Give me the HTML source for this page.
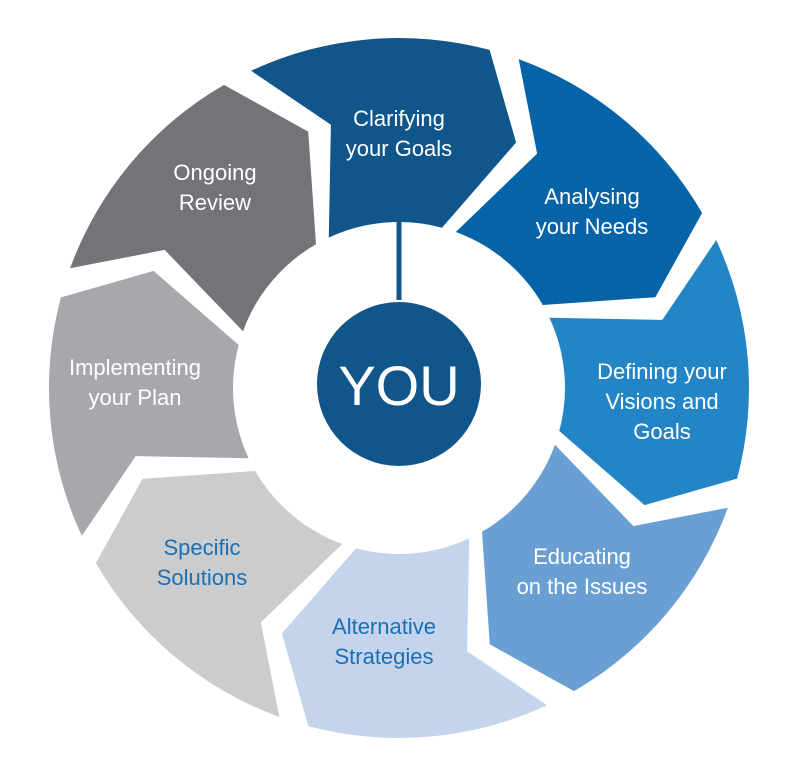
<!DOCTYPE html>
<html><head><meta charset="utf-8"><style>
html,body{margin:0;padding:0;background:#fff}
svg{display:block}
text{font-family:"Liberation Sans",sans-serif;font-size:22px;text-anchor:middle}
</style></head><body>
<svg id="s" width="800" height="781" viewBox="0 0 800 781">
<g id="segs"></g>
<line x1="399" y1="300" x2="399" y2="208" stroke="#11568a" stroke-width="5"/>
<circle cx="399" cy="384" r="82" fill="#11568a"/>
<text x="399" y="405" fill="#fff" style="font-size:56px">YOU</text>
<g fill="#fff">
<text x="399" y="126">Clarifying</text><text x="399" y="156">your Goals</text>
<text x="592" y="204">Analysing</text><text x="592" y="234">your Needs</text>
<text x="662" y="379">Defining your</text><text x="662" y="409">Visions and</text><text x="662" y="439">Goals</text>
<text x="582" y="564">Educating</text><text x="582" y="594">on the Issues</text>
<text x="215" y="180">Ongoing</text><text x="215" y="210">Review</text>
<text x="135" y="375">Implementing</text><text x="135" y="405">your Plan</text>
</g>
<g fill="#1a6fb5">
<text x="384" y="634">Alternative</text><text x="384" y="664">Strategies</text>
<text x="202" y="555">Specific</text><text x="202" y="585">Solutions</text>
</g>
</svg>
<script>
var cx=399,cy=388,ri=166,ro=350,rm=272,d=10.5;
var cols=["#11568a","#0564a8","#2384c6","#6a9fd4","#c3d4ec","#cbcccd","#a7a8ab","#737477"];
function P(r,a){a=a*Math.PI/180;return (cx+r*Math.sin(a)).toFixed(1)+","+(cy-r*Math.cos(a)).toFixed(1);}
var h="";
for(var k=0;k<8;k++){var a0=-25+45*k,a1=a0+40;
h+='<path fill="'+cols[k]+'" d="M'+P(ri,a0)+' L'+P(rm,a0+d)+' L'+P(ro,a0)+' A'+ro+','+ro+' 0 0 1 '+P(ro,a1)+' L'+P(rm,a1+d)+' L'+P(ri,a1)+' A'+ri+','+ri+' 0 0 0 '+P(ri,a0)+'Z"/>';}
document.getElementById("segs").innerHTML=h;
</script>
</body></html>
